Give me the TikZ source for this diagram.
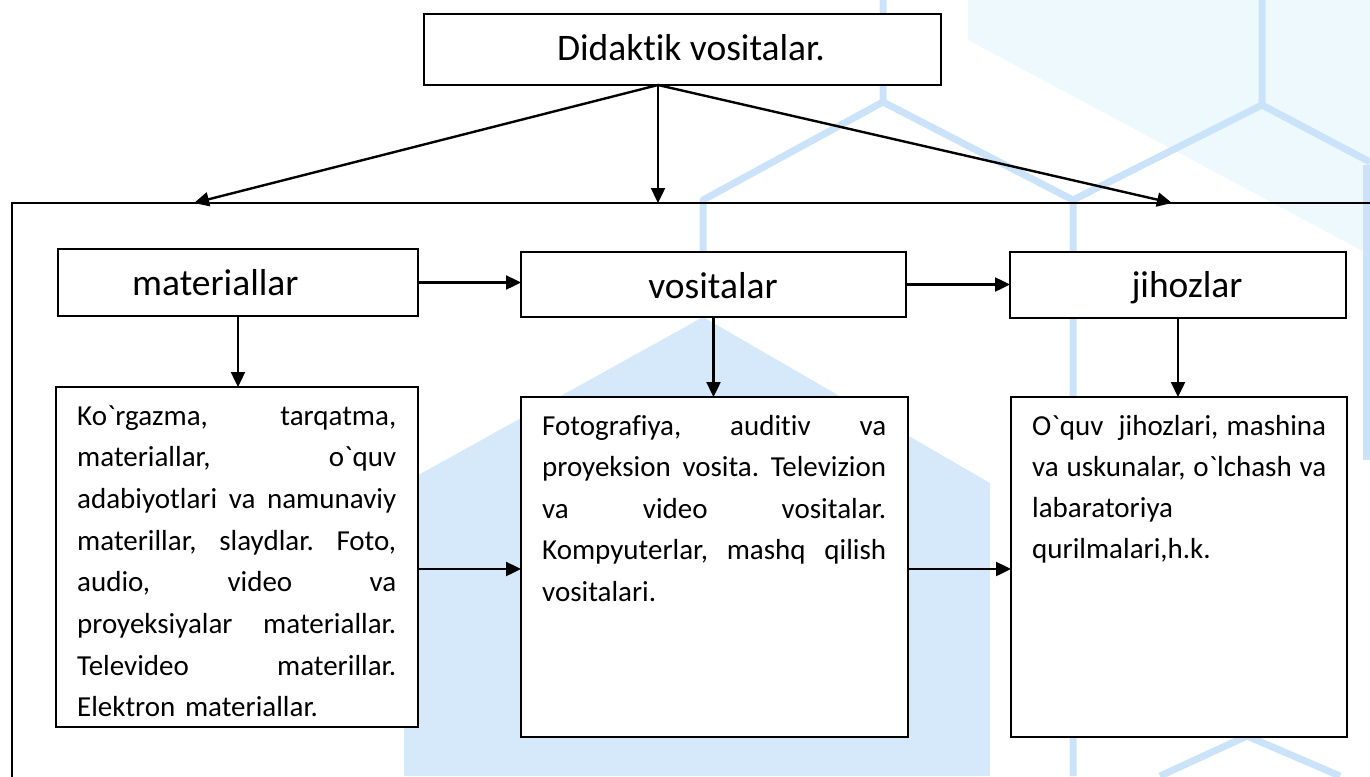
\documentclass[tikz,border=0pt]{standalone}
\usepackage{fontspec}
\setmainfont{Carlito}[Ligatures=CommonOff]
\usetikzlibrary{arrows.meta}
\definecolor{hexfill}{HTML}{D5E9FB}
\definecolor{hexstroke}{HTML}{CBE3F8}
\definecolor{cyanbg}{HTML}{EDF9FD}
\font\gravefont="Carlito" at 29pt
\newcommand\gr{{\gravefont\char96}}
\newcommand\jl[2]{\hbox to #1{#2}}
\newcommand\lf[1]{\hbox{#1}}
\begin{document}
\begin{tikzpicture}[x=1pt,y=-1pt,
  box/.style={draw=black,line width=2pt,fill=white,inner sep=0pt,outer sep=0pt},
  arr/.style={line width=2.4pt,-{Triangle[length=15pt,width=14pt]}},
  head/.style={font=\fontsize{37.5}{44}\selectfont,inner sep=0pt},
  body/.style={font=\fontsize{29}{41.7}\selectfont,inner sep=0pt,anchor=base west},
  hexline/.style={line width=7pt,draw=hexstroke,line join=round}]
\useasboundingbox (0,0) rectangle (1370,776);
% background decoration
\fill[cyanbg] (968,0) -- (1370,0) -- (1370,255) -- (968,40) -- cycle;
\fill[hexfill] (703,317) -- (990,483) -- (990,776) -- (404,776) -- (404,483) -- cycle;
\draw[hexline] (883,0) -- (883,102) -- (703,200) -- (703,317);
\draw[hexline] (883,102) -- (1073,200) -- (1073,776);
\draw[hexline] (1262,0) -- (1262,105) -- (1073,200);
\draw[hexline] (1262,105) -- (1370,162);
\draw[hexline] (1366,165) -- (1366,460);
\draw[hexline] (1160,776) -- (1247,736) -- (1340,776);
% frame
\draw[line width=2pt] (12,790) -- (12,203) -- (1380,203);
% boxes
\node[box,minimum width=517pt,minimum height=71pt] (top) at (682.5,49.5) {};
\node[box,minimum width=360pt,minimum height=67pt] (mat) at (238,282.5) {};
\node[box,minimum width=385pt,minimum height=65pt] (vos) at (713.5,284.5) {};
\node[box,minimum width=336pt,minimum height=66pt] (jih) at (1178,285) {};
\node[box,minimum width=362pt,minimum height=340pt] (ml) at (237,557) {};
\node[box,minimum width=387pt,minimum height=340pt] (mm) at (714.5,567) {};
\node[box,minimum width=336pt,minimum height=340pt] (mr) at (1179,567) {};
% heading texts
\node[head,anchor=base] (toptext) at (691,61) {Didaktik vositalar.};
\node[head,anchor=base west] (mattext) at (132,295) {materiallar};
\node[head,anchor=base] (vostext) at (713,298) {vositalar};
\node[head,anchor=base] (jihtext) at (1187,297) {jihozlar};
% body texts
\node[body,text width=319pt] (mltext) at (77,425) {%
\jl{319pt}{Ko\gr rgazma,\hfill tarqatma,}
\jl{319pt}{materiallar,\hfill o\gr quv}
\jl{319pt}{adabiyotlari\hfill va\hfill namunaviy}
\jl{319pt}{materillar,\hfill slaydlar.\hfill Foto,}
\jl{319pt}{audio,\hfill video\hfill va}
\jl{319pt}{proyeksiyalar\hfill materiallar.}
\jl{319pt}{Televideo\hfill materillar.}
\lf{Elektron materiallar.}};
\node[body,text width=344pt,font=\fontsize{29}{41.5}\selectfont] (mmtext) at (542,435) {%
\jl{344pt}{Fotografiya,\hfill auditiv\hfill va}
\jl{344pt}{proyeksion\hfill vosita.\hfill Televizion}
\jl{344pt}{va\hfill video\hfill vositalar.}
\jl{344pt}{Kompyuterlar,\hfill mashq\hfill qilish}
\lf{vositalari.}};
\node[body,text width=294pt,font=\fontsize{29}{41}\selectfont] (mrtext) at (1032,435) {%
\jl{294pt}{O\gr quv\hspace{7pt}\hfill jihozlari,\hfill mashina}
\jl{294pt}{va\hfill uskunalar,\hfill o\gr lchash\hfill va}
\lf{labaratoriya}
\lf{qurilmalari,h.k.}};
% connectors from the top box
\coordinate (o) at ([xshift=-24.5pt]top.south);
\coordinate (tl) at (194,203);
\coordinate (tc) at (658,203);
\coordinate (tr) at (1172,203);
\draw[arr] (o) -- (tl);
\draw[arr] (o) -- (tc);
\draw[arr] (o) -- (tr);
% connectors between boxes
\draw[arr] (mat.east) -- (mat.east -| vos.west);
\draw[arr] (vos.east) -- (vos.east -| jih.west);
\draw[arr] (mat.south) -- (mat.south |- ml.north);
\draw[arr] (vos.south) -- (vos.south |- mm.north);
\draw[arr] (jih.south) -- (jih.south |- mr.north);
\draw[arr] ([yshift=-12pt]ml.east) -- ([yshift=-12pt]ml.east -| mm.west);
\draw[arr] ([yshift=-2pt]mm.east) -- ([yshift=-2pt]mm.east -| mr.west);
\end{tikzpicture}
\end{document}
